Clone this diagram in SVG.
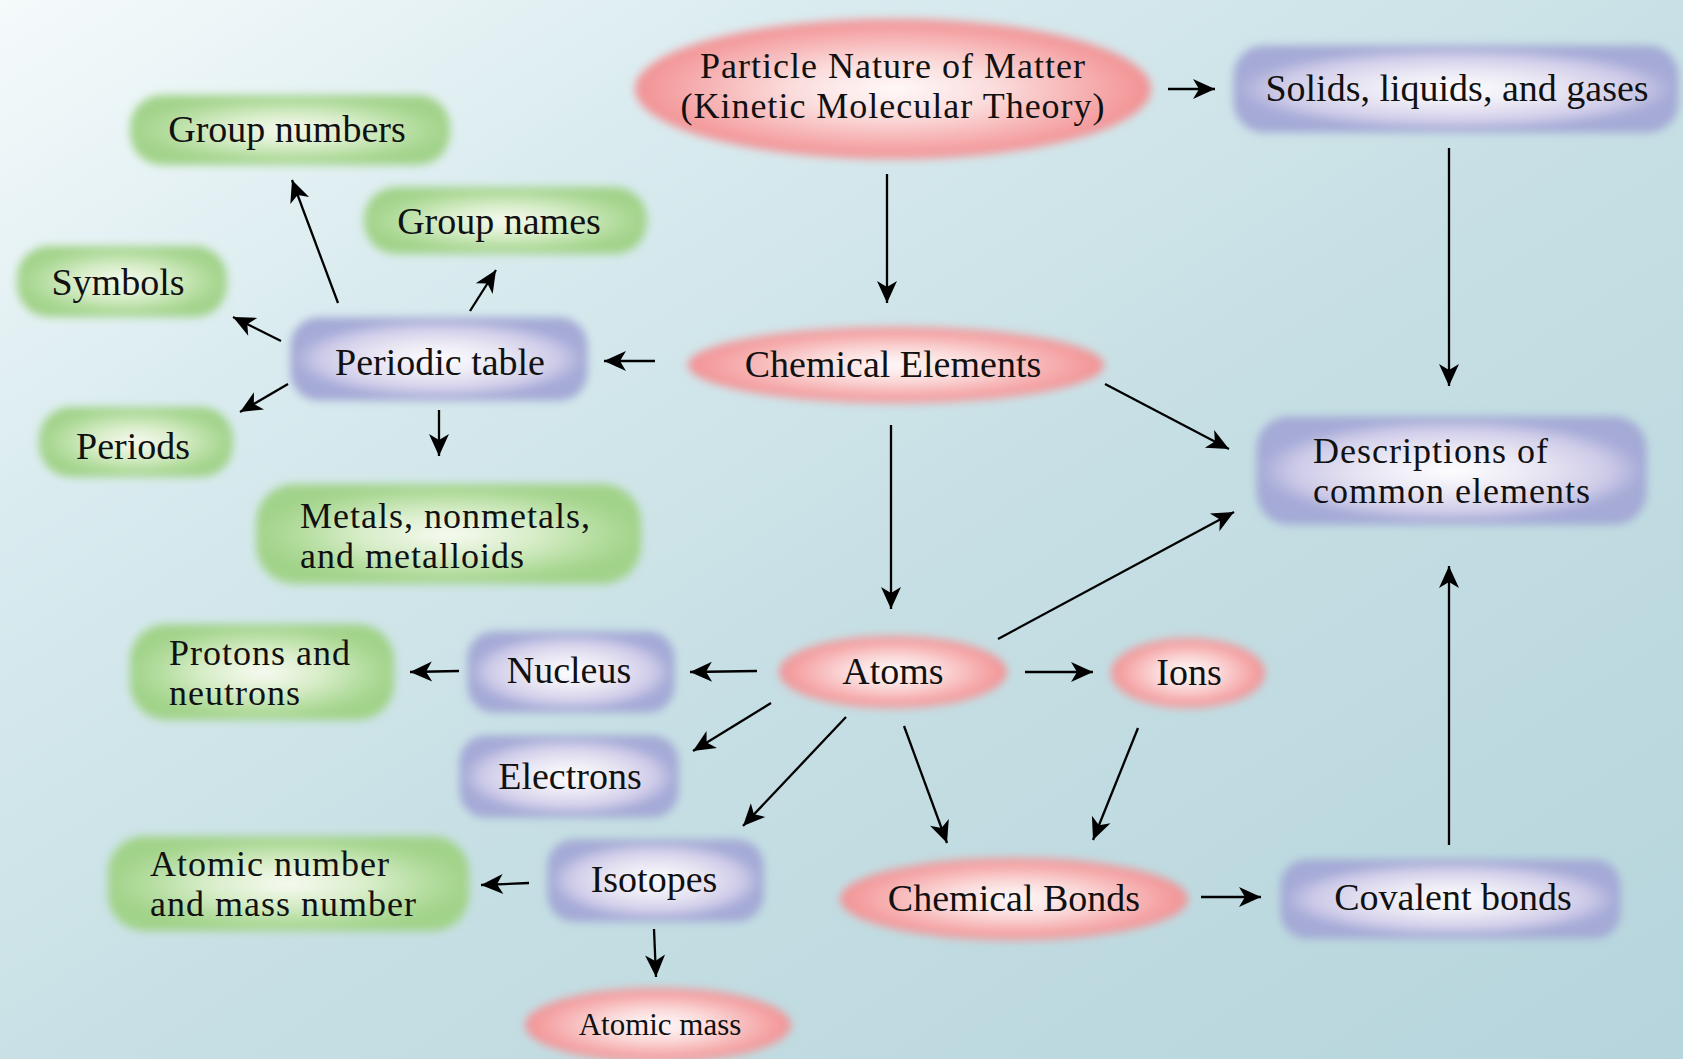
<svg xmlns="http://www.w3.org/2000/svg" width="1683" height="1059" viewBox="0 0 1683 1059">
<defs>
<linearGradient id="bg" x1="0" y1="0" x2="1" y2="1">
<stop offset="0" stop-color="#f5fafb"/>
<stop offset="0.25" stop-color="#d9ebef"/>
<stop offset="0.55" stop-color="#c6dfe4"/>
<stop offset="1" stop-color="#b6d5dc"/>
</linearGradient>
<radialGradient id="gGreen" cx="0.5" cy="0.5" r="0.5">
<stop offset="0" stop-color="#f8fbf3"/>
<stop offset="0.45" stop-color="#d8edc9"/>
<stop offset="0.8" stop-color="#b2dc9d"/>
<stop offset="1" stop-color="#a2d38a"/>
</radialGradient>
<radialGradient id="gBlue" cx="0.5" cy="0.5" r="0.5">
<stop offset="0" stop-color="#ffffff"/>
<stop offset="0.5" stop-color="#e6e3f2"/>
<stop offset="0.82" stop-color="#cdcae8"/>
<stop offset="1" stop-color="#a5aad7"/>
</radialGradient>
<radialGradient id="gRed" cx="0.5" cy="0.5" r="0.5">
<stop offset="0" stop-color="#fffafa"/>
<stop offset="0.4" stop-color="#fbdcdc"/>
<stop offset="0.78" stop-color="#f6acad"/>
<stop offset="1" stop-color="#f29294"/>
</radialGradient>
<filter id="soft" x="-10%" y="-20%" width="120%" height="140%">
<feGaussianBlur stdDeviation="4"/>
</filter>
<marker id="ah" markerUnits="userSpaceOnUse" markerWidth="26" markerHeight="24" viewBox="-24 -11 26 22" refX="0" refY="0" orient="auto">
<path d="M0,0 L-22,-10 L-16,0 L-22,10 Z" fill="#000"/>
</marker>
<style>
.t{font-family:"Liberation Serif","Times New Roman",serif;font-size:38px;fill:#111;}
.t2{font-size:36px;letter-spacing:1px;}
.tc{text-anchor:middle;}
.green{fill:url(#gGreen);filter:url(#soft);}
.blue{fill:url(#gBlue);stroke:#a3a8d4;stroke-width:5;filter:url(#soft);}
.red{fill:url(#gRed);filter:url(#soft);}
.c line{stroke:#000;stroke-width:2.3;marker-end:url(#ah);}
</style>
</defs>
<rect width="1683" height="1059" fill="url(#bg)"/>

<!-- Red ellipses -->
<g id="particle">
<ellipse class="red" cx="893" cy="89" rx="258" ry="70"/>
<text class="t t2 tc" x="893" y="78">Particle Nature of Matter</text>
<text class="t t2 tc" x="893" y="118">(Kinetic Molecular Theory)</text>
</g>
<g id="chemElements">
<ellipse class="red" cx="896" cy="365" rx="208" ry="38"/>
<text class="t tc" x="893" y="377">Chemical Elements</text>
</g>
<g id="atoms">
<ellipse class="red" cx="893" cy="672" rx="114" ry="36"/>
<text class="t tc" x="893" y="684">Atoms</text>
</g>
<g id="ions">
<ellipse class="red" cx="1188" cy="673" rx="77" ry="35"/>
<text class="t tc" x="1189" y="685">Ions</text>
</g>
<g id="chemBonds">
<ellipse class="red" cx="1014" cy="899" rx="174" ry="41"/>
<text class="t tc" x="1014" y="911">Chemical Bonds</text>
</g>
<g id="atomicMass">
<ellipse class="red" cx="658" cy="1025" rx="133" ry="37"/>
<text class="t tc" x="660" y="1035" style="font-size:31px">Atomic mass</text>
</g>

<!-- Blue nodes -->
<g id="solids">
<rect class="blue" x="1236" y="48" width="440" height="82" rx="28"/>
<text class="t tc" x="1457" y="101">Solids, liquids, and gases</text>
</g>
<g id="periodic">
<rect class="blue" x="293" y="320" width="292" height="78" rx="26"/>
<text class="t tc" x="440" y="375">Periodic table</text>
</g>
<g id="descriptions">
<rect class="blue" x="1259" y="419" width="385" height="103" rx="30"/>
<text class="t t2" x="1313" y="463">Descriptions of</text>
<text class="t t2" x="1313" y="503">common elements</text>
</g>
<g id="nucleus">
<rect class="blue" x="470" y="634" width="202" height="76" rx="24"/>
<text class="t tc" x="569" y="683">Nucleus</text>
</g>
<g id="electrons">
<rect class="blue" x="462" y="738" width="214" height="77" rx="24"/>
<text class="t tc" x="570" y="789">Electrons</text>
</g>
<g id="isotopes">
<rect class="blue" x="550" y="842" width="211" height="77" rx="24"/>
<text class="t tc" x="654" y="892">Isotopes</text>
</g>
<g id="covalent">
<rect class="blue" x="1283" y="862" width="335" height="74" rx="24"/>
<text class="t tc" x="1453" y="910">Covalent bonds</text>
</g>

<!-- Green nodes -->
<g id="groupNumbers">
<rect class="green" x="130" y="95" width="320" height="70" rx="32"/>
<text class="t tc" x="287" y="142">Group numbers</text>
</g>
<g id="groupNames">
<rect class="green" x="364" y="187" width="283" height="67" rx="32"/>
<text class="t tc" x="499" y="234">Group names</text>
</g>
<g id="symbols">
<rect class="green" x="17" y="246" width="210" height="71" rx="32"/>
<text class="t tc" x="118" y="295">Symbols</text>
</g>
<g id="periods">
<rect class="green" x="39" y="407" width="194" height="70" rx="32"/>
<text class="t tc" x="133" y="459">Periods</text>
</g>
<g id="metals">
<rect class="green" x="256" y="484" width="385" height="100" rx="38"/>
<text class="t t2" x="300" y="528">Metals, nonmetals,</text>
<text class="t t2" x="300" y="568">and metalloids</text>
</g>
<g id="protons">
<rect class="green" x="130" y="624" width="264" height="96" rx="36"/>
<text class="t t2" x="169" y="665">Protons and</text>
<text class="t t2" x="169" y="705">neutrons</text>
</g>
<g id="atomicNumber">
<rect class="green" x="108" y="836" width="361" height="95" rx="36"/>
<text class="t t2" x="150" y="876">Atomic number</text>
<text class="t t2" x="150" y="916">and mass number</text>
</g>

<!-- Connectors -->
<g id="connectors" class="c">
<line x1="1168" y1="89" x2="1215" y2="89"/>
<line x1="887" y1="174" x2="887" y2="303"/>
<line x1="1449" y1="148" x2="1449" y2="386"/>
<line x1="655" y1="361" x2="604" y2="361"/>
<line x1="1105" y1="384" x2="1229" y2="449"/>
<line x1="891" y1="425" x2="891" y2="609"/>
<line x1="338" y1="303" x2="292" y2="180"/>
<line x1="470" y1="311" x2="496" y2="270"/>
<line x1="281" y1="341" x2="233" y2="317"/>
<line x1="288" y1="384" x2="240" y2="412"/>
<line x1="439" y1="410" x2="439" y2="456"/>
<line x1="998" y1="639" x2="1234" y2="512"/>
<line x1="757" y1="671" x2="690" y2="672"/>
<line x1="459" y1="671" x2="410" y2="672"/>
<line x1="1025" y1="672" x2="1093" y2="672"/>
<line x1="771" y1="703" x2="693" y2="751"/>
<line x1="846" y1="717" x2="743" y2="826"/>
<line x1="904" y1="726" x2="947" y2="843"/>
<line x1="1138" y1="728" x2="1093" y2="840"/>
<line x1="529" y1="883" x2="481" y2="885"/>
<line x1="654" y1="929" x2="656" y2="977"/>
<line x1="1201" y1="897" x2="1261" y2="897"/>
<line x1="1449" y1="845" x2="1449" y2="566"/>
</g>
</svg>
